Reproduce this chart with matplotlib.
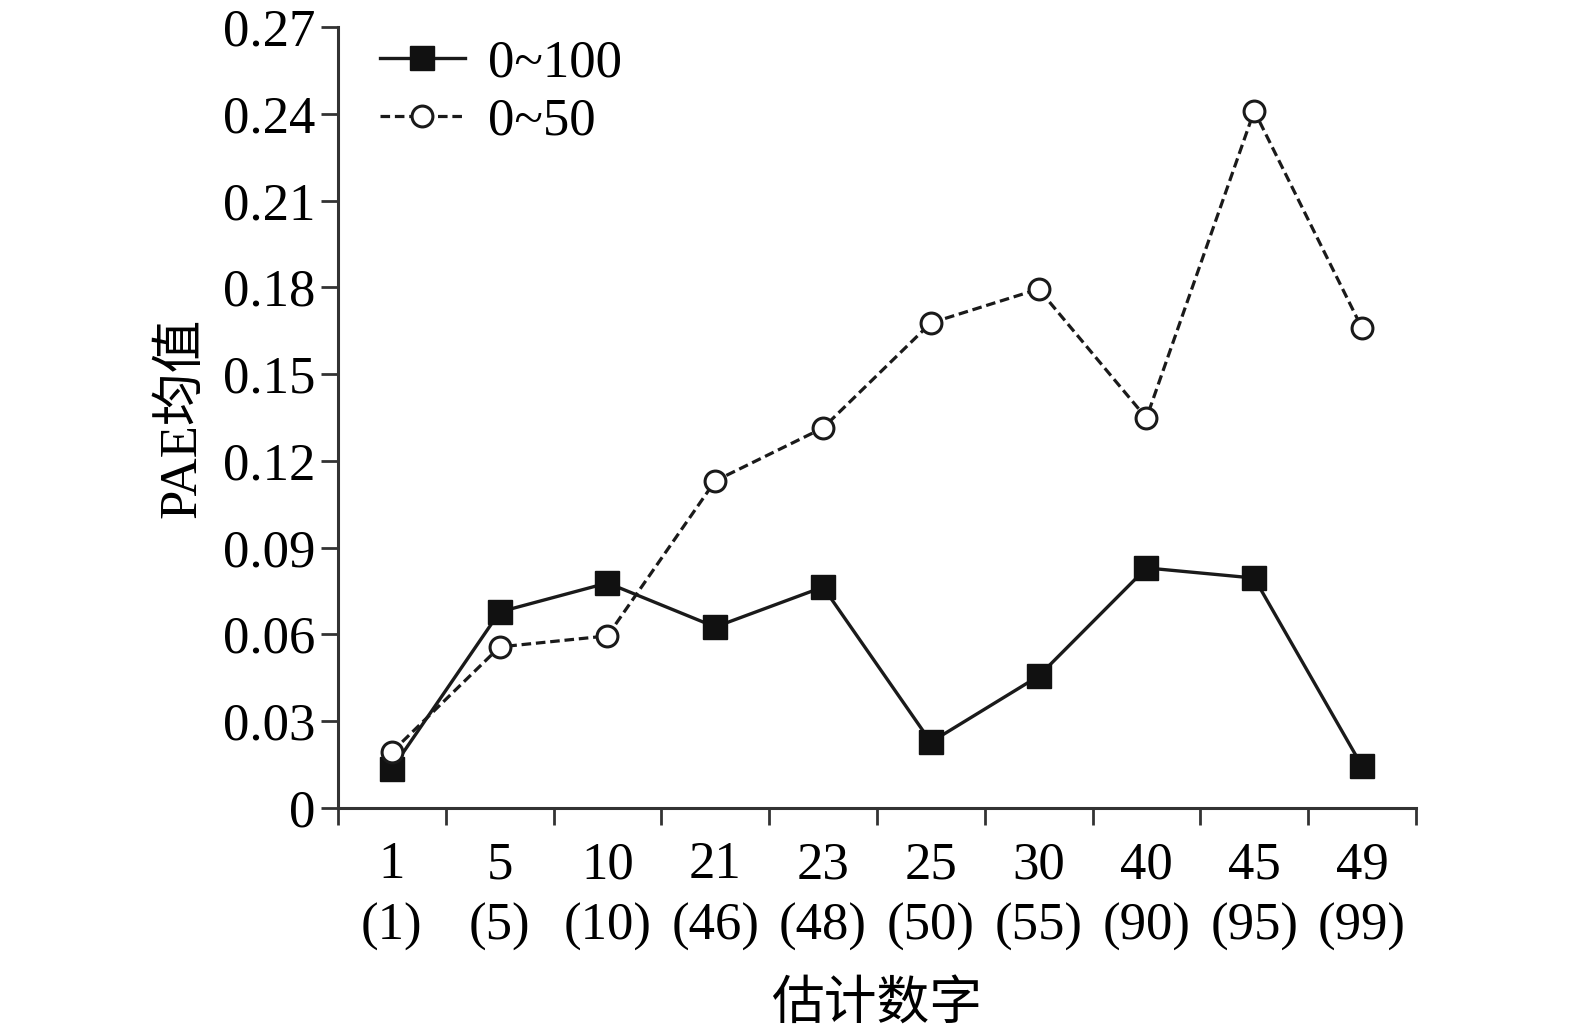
import numpy as np
import matplotlib
matplotlib.use('Agg')
import matplotlib.pyplot as plt

plt.rcParams['font.family'] = ['Liberation Serif', 'Noto Sans CJK SC']

categories = ['1\n(1)', '5\n(5)', '10\n(10)', '21\n(46)', '23\n(48)',
              '25\n(50)', '30\n(55)', '40\n(90)', '45\n(95)', '49\n(99)']
pae_100 = [0.0135, 0.0678, 0.0778, 0.0626, 0.0764, 0.0228, 0.0456, 0.0830, 0.0795, 0.0145]
pae_50 = [0.0194, 0.0557, 0.0595, 0.1131, 0.1314, 0.1677, 0.1794, 0.1348, 0.2410, 0.1659]
yticks = [0, 0.03, 0.06, 0.09, 0.12, 0.15, 0.18, 0.21, 0.24, 0.27]
yticklabels = ['0', '0.03', '0.06', '0.09', '0.12', '0.15', '0.18', '0.21', '0.24', '0.27']

fig = plt.figure(figsize=(15.75, 10.3), dpi=100)
ax = fig.add_axes([0.2146, 0.2155, 0.6844, 0.7583])

x = np.arange(len(categories))
ax.plot(x, pae_100, '-', color='#1a1a1a', lw=2.4, marker='s', ms=17,
        mfc='#111111', mec='#111111', label='0~100', zorder=3)
ax.plot(x, pae_50, '--', color='#1a1a1a', lw=2.3, dashes=(3, 1.5), marker='o', ms=15,
        mfc='white', mec='#1a1a1a', mew=2.2, label='0~50', zorder=4)

ax.set_xlim(-0.5, len(categories) - 0.5)
ax.set_ylim(0, 0.27)
ax.set_yticks(yticks)
ax.set_yticklabels(yticklabels)
ax.set_xticks(x)
ax.set_xticklabels(categories, linespacing=1.35)
ax.set_xticks(np.arange(-0.5, len(categories)), minor=True)
ax.tick_params(axis='x', which='major', length=0, pad=24, labelsize=38)
ax.tick_params(axis='x', which='minor', length=12, width=2, direction='out', color='#333333')
ax.tick_params(axis='y', length=12, width=2, direction='out', pad=4, labelsize=38, color='#333333')

for side in ['top', 'right']:
    ax.spines[side].set_visible(False)
for side in ['left', 'bottom']:
    ax.spines[side].set_linewidth(2.2)
    ax.spines[side].set_color('#333333')

ax.set_ylabel('PAE均值', fontsize=38, labelpad=12)
ax.set_xlabel('估计数字', fontsize=38, labelpad=22)

leg = ax.legend(loc='upper left', bbox_to_anchor=(-0.005, 1.045), frameon=False,
                fontsize=38, handlelength=1.6, handletextpad=0.45, labelspacing=0.2)

fig.savefig('out.png', dpi=100)
